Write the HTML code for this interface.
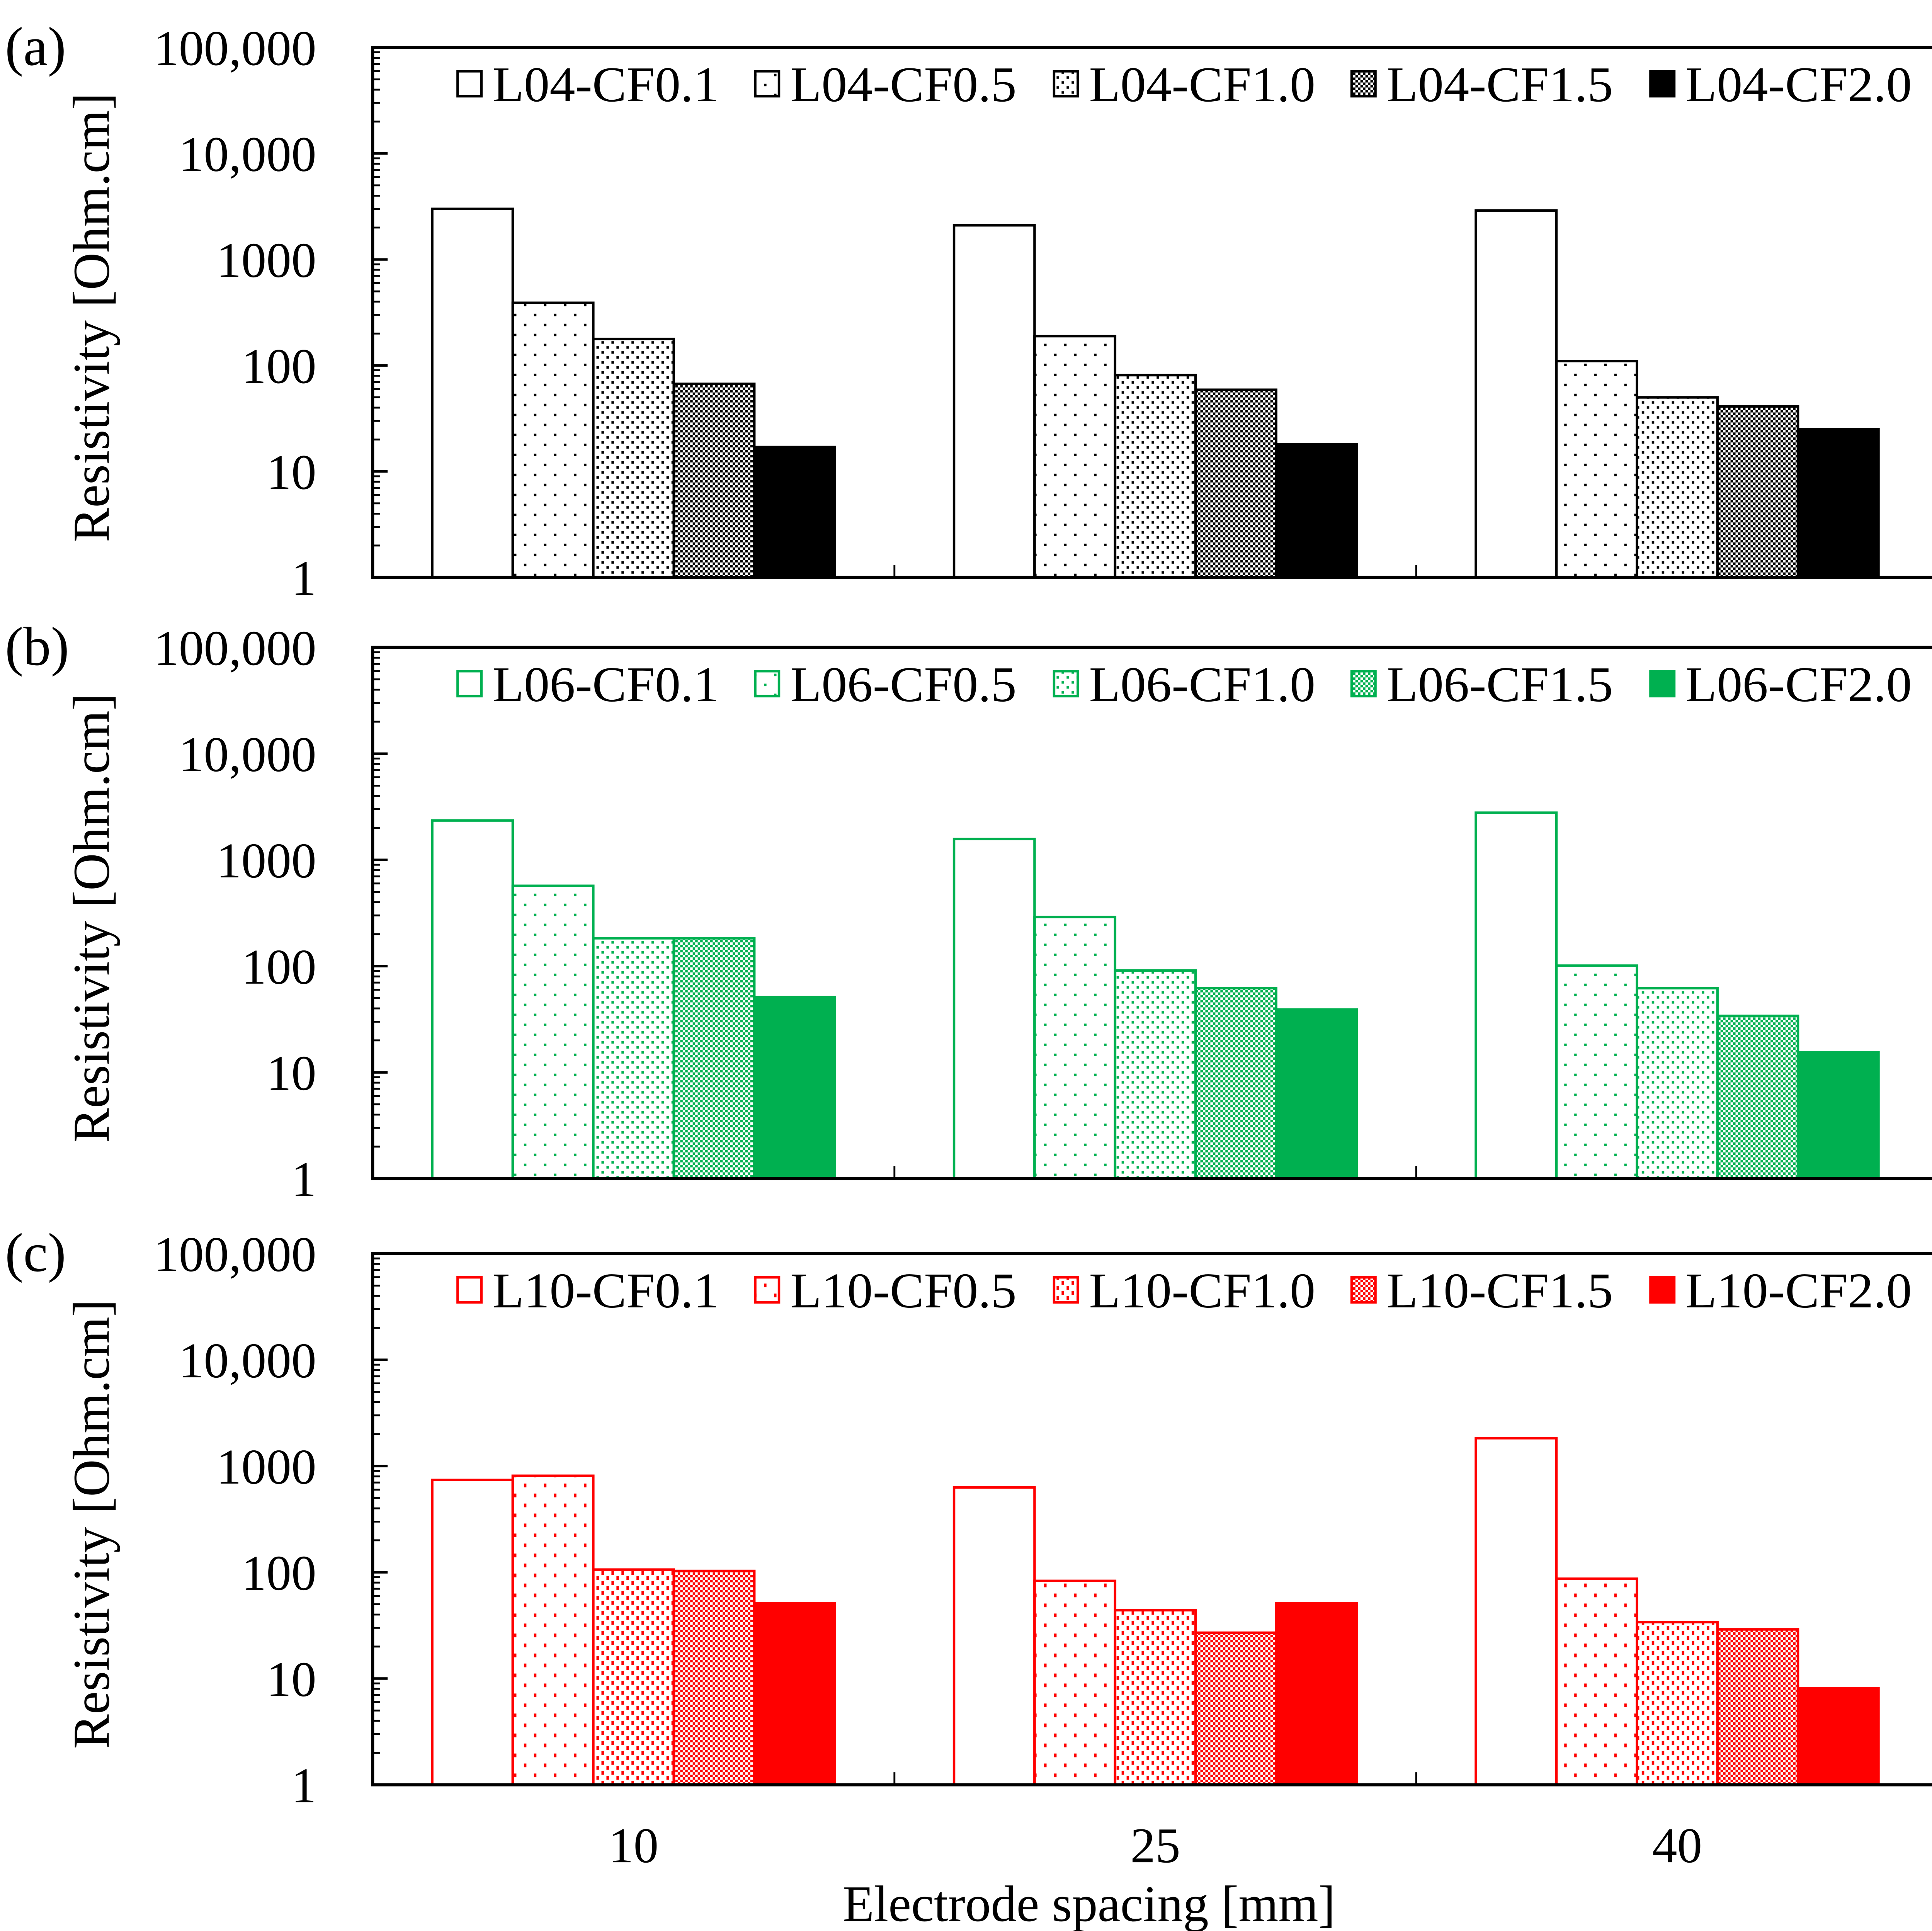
<!DOCTYPE html>
<html><head><meta charset="utf-8"><style>
html,body{margin:0;padding:0;background:#fff;overflow:hidden}
svg{display:block}
text{font-family:"Liberation Serif",serif;fill:#000}
</style></head><body>
<svg id="chart" xmlns="http://www.w3.org/2000/svg" width="5074" height="4998" viewBox="0 0 1568 1545" preserveAspectRatio="none">
<defs>
<pattern id="p1k" width="16" height="16" patternUnits="userSpaceOnUse"><rect x="3" y="3" width="2" height="2" fill="#000"/><rect x="11" y="11" width="2" height="2" fill="#000"/></pattern>
<pattern id="p2k" width="8" height="8" patternUnits="userSpaceOnUse"><rect x="1" y="1" width="2" height="2" fill="#000"/><rect x="5" y="5" width="2" height="2" fill="#000"/></pattern>
<pattern id="p3k" width="4" height="4" patternUnits="userSpaceOnUse"><rect width="4" height="4" fill="#fff"/><rect x="0" y="0" width="2" height="2" fill="#000"/><rect x="2" y="2" width="2" height="2" fill="#000"/></pattern>
<pattern id="p1g" width="16" height="16" patternUnits="userSpaceOnUse"><rect x="3" y="3" width="2" height="2" fill="#00b050"/><rect x="11" y="11" width="2" height="2" fill="#00b050"/></pattern>
<pattern id="p2g" width="8" height="8" patternUnits="userSpaceOnUse"><rect x="1" y="1" width="2" height="2" fill="#00b050"/><rect x="5" y="5" width="2" height="2" fill="#00b050"/></pattern>
<pattern id="p3g" width="4" height="4" patternUnits="userSpaceOnUse"><rect width="4" height="4" fill="#fff"/><rect x="0" y="0" width="2" height="2" fill="#00b050"/><rect x="2" y="2" width="2" height="2" fill="#00b050"/></pattern>
<pattern id="p1r" width="16" height="16" patternUnits="userSpaceOnUse"><rect x="3" y="3" width="2" height="3" fill="#f00"/><rect x="11" y="11" width="2" height="3" fill="#f00"/></pattern>
<pattern id="p2r" width="8" height="8" patternUnits="userSpaceOnUse"><rect x="1" y="1" width="2" height="3" fill="#f00"/><rect x="5" y="5" width="2" height="3" fill="#f00"/></pattern>
<pattern id="p3r" width="4" height="4" patternUnits="userSpaceOnUse"><rect width="4" height="4" fill="#fff"/><rect x="0" y="0" width="2" height="2" fill="#f00"/><rect x="2" y="2" width="2" height="2" fill="#f00"/></pattern>
</defs>
<g id="root"></g>
<text x="871" y="1537" font-size="41" text-anchor="middle">Electrode spacing [mm]</text>
</svg>
<script>
const categories = ["10", "25", "40"];
const yTickValues = [1, 10, 100, 1000, 10000, 100000];
const yTickLabels = ["1", "10", "100", "1000", "10,000", "100,000"];
const panelLabels = ["(a)", "(b)", "(c)"];
const seriesNamesA = ["L04-CF0.1", "L04-CF0.5", "L04-CF1.0", "L04-CF1.5", "L04-CF2.0"];
const seriesNamesB = ["L06-CF0.1", "L06-CF0.5", "L06-CF1.0", "L06-CF1.5", "L06-CF2.0"];
const seriesNamesC = ["L10-CF0.1", "L10-CF0.5", "L10-CF1.0", "L10-CF1.5", "L10-CF2.0"];
// values[series][category]
const valuesA = [[3000, 2100, 2900], [390, 189, 110], [178, 81, 50], [67, 59, 41], [17, 18, 25]];
const valuesB = [[2350, 1570, 2780], [570, 290, 101], [183, 91, 62], [183, 62, 34], [51, 39, 15.5]];
const valuesC = [[740, 630, 1830], [810, 83, 87], [106, 44, 34], [103, 27, 29], [51, 51, 8.1]];

const NS = "http://www.w3.org/2000/svg";
const root = document.getElementById("root");
function mk(tag, attrs, parent) {
  const e = document.createElementNS(NS, tag);
  for (const k in attrs) e.setAttribute(k, attrs[k]);
  (parent || root).appendChild(e);
  return e;
}
const L = 298, R = 1550;
const panels = [
  {top: 38, bottom: 462, names: seriesNamesA, vals: valuesA, col: "#000", suf: "k"},
  {top: 518, bottom: 943, names: seriesNamesB, vals: valuesB, col: "#00b050", suf: "g"},
  {top: 1003, bottom: 1428, names: seriesNamesC, vals: valuesC, col: "#f00", suf: "r"}
];
const legendX = [366, 604, 843, 1081, 1320];
panels.forEach((p, pi) => {
  const g = mk("g", {});
  
  
  const yScale = v => p.bottom - (Math.log10(v) / 5) * (p.bottom - p.top);
  const catW = (R - L) / categories.length;
  const xCenter = i => L + catW * (i + 0.5);
  const barW = 64.4;
  const fills = ["#fff", "url(#p1" + p.suf + ")", "url(#p2" + p.suf + ")", "url(#p3" + p.suf + ")", p.col];
  p.vals.forEach((series, si) => {
    series.forEach((v, ci) => {
      const x = xCenter(ci) - 2.5 * barW + si * barW;
      const y = yScale(v);
      const b = mk("rect", {x: x, y: y, width: barW, height: p.bottom - y, fill: fills[si], stroke: p.col, "stroke-width": 2}, g);
      
      
    });
  });
  const fr = mk("rect", {x: L, y: p.top, width: R - L, height: p.bottom - p.top, fill: "none", stroke: "#000", "stroke-width": 2.5}, g);
  
  
  for (let i = 1; i < categories.length; i++) {
    mk("line", {x1: L + catW * i, x2: L + catW * i, y1: p.bottom, y2: p.bottom - 10, stroke: "#000", "stroke-width": 1.5}, g);
  }
  for (let d = 0; d < 5; d++) {
    for (let m = 2; m <= 9; m++) {
      const y = yScale(Math.pow(10, d) * m);
      mk("line", {x1: L, x2: L + 6, y1: y, y2: y, stroke: "#000", "stroke-width": 1.5}, g);
    }
  }
  yTickValues.forEach((v, i) => {
    const y = yScale(v);
    mk("line", {x1: L, x2: L + 12, y1: y, y2: y, stroke: "#000", "stroke-width": 2}, g);
    const t = mk("text", {x: 253, y: y + 14, "font-size": 40, "text-anchor": "end"}, g);
    t.textContent = yTickLabels[i];
    
    
  });
  const yt = mk("text", {x: 0, y: 0, "font-size": 41.5, "text-anchor": "middle", transform: "translate(87," + ((p.top + p.bottom) / 2 + 4) + ") rotate(-90)"}, g);
  yt.textContent = "Resistivity [Ohm.cm]";
  
  
  const pl = mk("text", {x: 4, y: p.top + 14, "font-size": 44}, g);
  pl.textContent = panelLabels[pi];
  
  
  p.names.forEach((n, si) => {
    const lg = mk("g", {}, g);
    
    
    const ly = p.top + 29;
    mk("rect", {x: legendX[si], y: ly - 10, width: 19, height: 20, fill: fills[si], stroke: p.col, "stroke-width": 2}, lg);
    const t = mk("text", {x: legendX[si] + 28, y: ly + 14, "font-size": 40, textLength: 181, lengthAdjust: "spacingAndGlyphs"}, lg);
    t.textContent = n;
  });
});
categories.forEach((c, i) => {
  const t = mk("text", {x: L + (R - L) / 3 * (i + 0.5), y: 1490, "font-size": 40, "text-anchor": "middle"});
  t.textContent = c;
  
  
});
</script>
</body></html>
